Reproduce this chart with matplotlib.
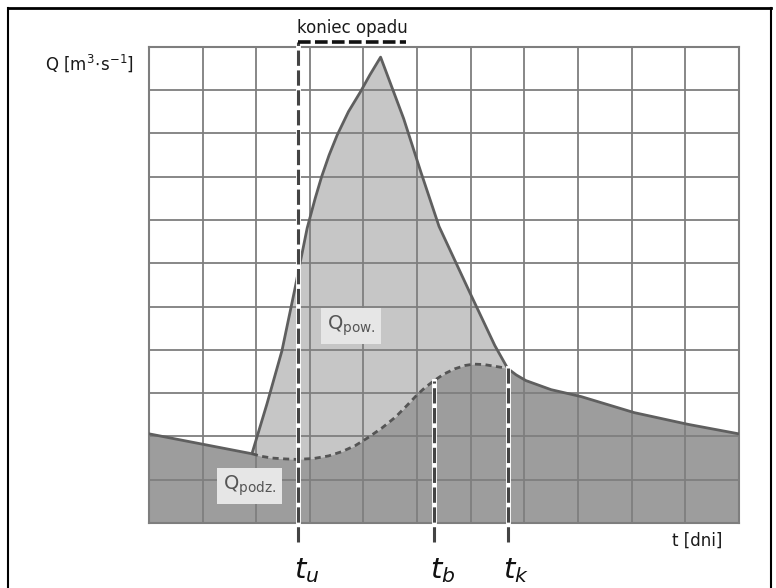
import numpy as np
import matplotlib.pyplot as plt
from matplotlib.lines import Line2D

# hydrogram calkowity (Q) - czas w jednostkach siatki
t_q = [0, 1.92, 2.2, 2.48, 2.72, 2.95, 3.1, 3.22, 3.36, 3.51, 3.72, 3.94, 4.12, 4.32,
       4.75, 5.07, 5.41, 6.0, 6.45, 6.69, 6.85, 7.03, 7.5, 8.06, 9.05, 10.05, 11.0]
q = [2.06, 1.60, 2.75, 3.98, 5.4, 6.81, 7.5, 8.0, 8.5, 8.96, 9.5, 9.95, 10.35, 10.76,
     9.34, 8.11, 6.85, 5.28, 4.1, 3.57, 3.42, 3.29, 3.08, 2.92, 2.55, 2.28, 2.06]

# przeplyw podziemny (linia przerywana) miedzy poczatkiem wezbrania a t_k
t_p = [1.92, 2.1, 2.3, 2.55, 2.76, 3.07, 3.35, 3.6, 3.85, 4.07, 4.35, 4.6, 4.8, 5.0,
       5.15, 5.32, 5.5, 5.7, 5.9, 6.06, 6.25, 6.4, 6.55, 6.69]
q_p = [1.60, 1.54, 1.50, 1.48, 1.47, 1.49, 1.55, 1.65, 1.79, 1.96, 2.2, 2.45, 2.7, 2.96,
       3.13, 3.29, 3.44, 3.56, 3.64, 3.67, 3.66, 3.63, 3.60, 3.57]

# momenty czasu
t_u = 2.78
t_b = 5.32
t_k = 6.69
t_labels = ["u", "b", "k"]

""" obszar przeplywu podziemnego """
t_q = np.array(t_q)
q = np.array(q)
i0 = np.searchsorted(t_q, t_p[0])
i1 = np.searchsorted(t_q, t_p[-1], side="right")
t_base = np.concatenate([t_q[:i0], t_p, t_q[i1:]])
q_base = np.concatenate([q[:i0], q_p, q[i1:]])

fig = plt.figure(figsize=(7.76, 5.88), dpi=100)
ax = fig.add_axes([0.192, 0.1105, 0.760, 0.810])

ax.fill_between(t_q, 0, q, color="#c6c6c6", lw=0, zorder=1)
ax.fill_between(t_base, 0, q_base, color="#9d9d9d", lw=0, zorder=2)

ax.set_xlim(0, 11)
ax.set_ylim(0, 11)
ax.set_xticks(range(12))
ax.set_yticks(range(12))
ax.tick_params(length=0, labelbottom=False, labelleft=False)
ax.grid(True, color="#7e7e7e", lw=1.3)
ax.set_axisbelow(False)
for s in ax.spines.values():
    s.set_color("#7e7e7e")
    s.set_linewidth(1.5)

ax.plot(t_q, q, color="#5f5f5f", lw=2, zorder=5, solid_joinstyle="round")
ax.plot(t_p, q_p, color="#555555", lw=2, ls=(0, (2.2, 1.6)), zorder=5)

""" linie pionowe t_u, t_b, t_k """
top_u = 11.12
top_b = np.interp(t_b, t_p, q_p)
top_k = np.interp(t_k, t_q, q)
for x, top in [(t_u, top_u), (t_b, top_b), (t_k, top_k)]:
    ax.plot([x, x], [-0.43, top], color="white", lw=3.5, zorder=6, clip_on=False)
    ax.plot([x, x], [-0.43, top], color="#444444", lw=2.2, ls=(0, (5, 1.5)),
            zorder=7, clip_on=False)

# koniec opadu
ax.plot([t_u, 4.8], [top_u, top_u], color="#111111", lw=2.6, ls=(0, (3.5, 1.2)),
        zorder=7, clip_on=False)
ax.text(3.79, 11.22, "koniec opadu", fontsize=12, color="#1a1a1a",
        ha="center", va="bottom")

ax.text(-1.10, 10.62, r"Q [m$^3\!\cdot\!$s$^{-1}$]", fontsize=12, color="#1a1a1a",
        ha="center", va="center")
ax.text(10.22, -0.42, "t [dni]", fontsize=12, color="#1a1a1a",
        ha="center", va="center")

box = dict(boxstyle="square,pad=0.3", facecolor="#e6e6e6", edgecolor="none")
ax.text(3.77, 4.55, r"$\mathrm{Q}_{\mathrm{pow.}}$", fontsize=14, color="#555555",
        ha="center", va="center", bbox=box, zorder=8)
ax.text(1.88, 0.85, r"$\mathrm{Q}_{\mathrm{podz.}}$", fontsize=14, color="#555555",
        ha="center", va="center", bbox=box, zorder=8)

for x, lab in zip([t_u, t_b, t_k], t_labels):
    ax.text(x + 0.16, -1.27, "$t_{" + lab + "}$", fontsize=21, color="#111111",
            ha="center", va="baseline")

""" ramka """
fig.add_artist(Line2D([0.0103, 0.0103], [0, 0.986], color="black", lw=1.5))
fig.add_artist(Line2D([0.0103, 0.9936], [0.986, 0.986], color="black", lw=2))
fig.add_artist(Line2D([0.9936, 0.9936], [0, 0.986], color="black", lw=1.5))

plt.savefig("out.png", dpi=100)
